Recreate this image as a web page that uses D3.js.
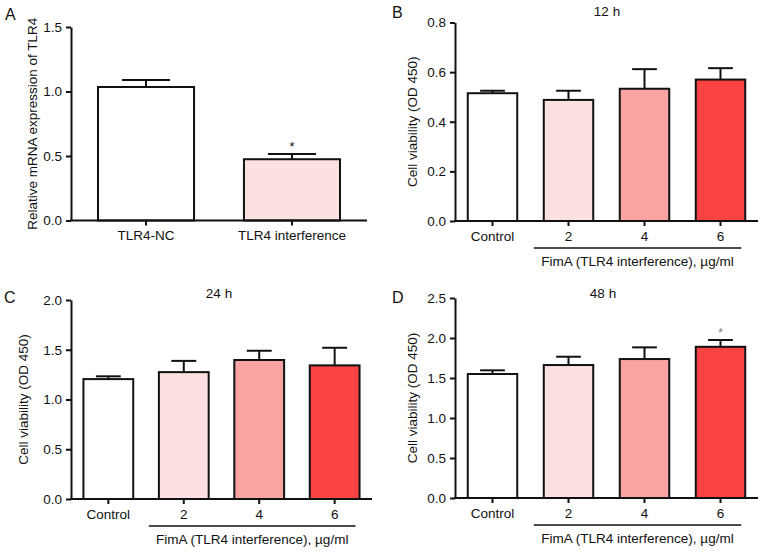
<!DOCTYPE html>
<html>
<head>
<meta charset="utf-8">
<script src="https://cdn.jsdelivr.net/npm/d3@7"></script>
<style>
  html, body { margin: 0; padding: 0; background: #fff; }
  svg { display: block; font-family: "Liberation Sans", Arial, Helvetica, sans-serif; }
</style>
</head>
<body>
<svg id="chart" width="765" height="554"></svg>
<script>
// ---- Data ----
const catsA = ["TLR4-NC", "TLR4 interference"];
const meanA = [1.035, 0.475];
const sdA = [0.055, 0.04];
const sigA = ["", "*"];

const catsDose = ["Control", "2", "4", "6"];
const mean12 = [0.515, 0.488, 0.533, 0.570];
const sd12 = [0.010, 0.037, 0.079, 0.046];
const sig12 = ["", "", "", ""];
const mean24 = [1.205, 1.275, 1.397, 1.343];
const sd24 = [0.028, 0.113, 0.093, 0.177];
const sig24 = ["", "", "", ""];
const mean48 = [1.550, 1.662, 1.737, 1.890];
const sd48 = [0.046, 0.104, 0.146, 0.085];
const sig48 = ["", "", "", "*"];

const ticksA = [0, 0.5, 1.0, 1.5];
const ticks12 = [0, 0.2, 0.4, 0.6, 0.8];
const ticks24 = [0, 0.5, 1.0, 1.5, 2.0];
const ticks48 = [0, 0.5, 1.0, 1.5, 2.0, 2.5];

const fillsA = ["#ffffff", "#fde0e1"];
const fillsDose = ["#ffffff", "#fde0e1", "#f9a3a3", "#f94343"];

const FS = 13.5;
const svg = d3.select("#chart");

function panel(cfg) {
  const g = svg.append("g");
  const x = d3.scaleBand().domain(cfg.cats).range(cfg.xr)
    .paddingInner(cfg.pi).paddingOuter(cfg.po);
  const y = d3.scaleLinear().domain([0, d3.max(cfg.ticks)]).range(cfg.yr);
  const data = cfg.cats.map((c, i) => ({c, m: cfg.mean[i], s: cfg.sd[i], f: cfg.fills[i], sig: cfg.sig[i]}));

  // error bars (upward only)
  const bw = x.bandwidth();
  data.forEach(d => {
    const cx = x(d.c) + bw / 2;
    g.append("line").attr("x1", cx).attr("x2", cx)
      .attr("y1", y(d.m)).attr("y2", y(d.m + d.s))
      .attr("stroke", "#111").attr("stroke-width", 2);
    g.append("line").attr("x1", cx - bw / 4).attr("x2", cx + bw / 4)
      .attr("y1", y(d.m + d.s)).attr("y2", y(d.m + d.s))
      .attr("stroke", "#111").attr("stroke-width", 2);
    if (d.sig) {
      g.append("text").attr("x", cx).attr("y", y(d.m + d.s) - 3)
        .attr("text-anchor", "middle").attr("font-size", 13)
        .attr("fill", cfg.sigColor).text(d.sig);
    }
  });
  // bars
  g.selectAll("rect.bar").data(data).join("rect")
    .attr("class", "bar")
    .attr("x", d => x(d.c)).attr("width", bw)
    .attr("y", d => y(d.m)).attr("height", d => y(0) - y(d.m))
    .attr("fill", d => d.f).attr("stroke", "#111").attr("stroke-width", 2);

  // axes
  const ya = g.append("g").attr("transform", `translate(${cfg.xr[0]},0)`)
    .call(d3.axisLeft(y).tickValues(cfg.ticks).tickFormat(d3.format(".1f"))
      .tickSize(5).tickSizeOuter(0).tickPadding(4));
  const xa = g.append("g").attr("transform", `translate(0,${cfg.yr[0]})`)
    .call(d3.axisBottom(x).tickSize(5).tickSizeOuter(0).tickPadding(5));
  [ya, xa].forEach(a => {
    a.selectAll("path, line").attr("stroke", "#111").attr("stroke-width", 2);
    a.selectAll("text").attr("font-size", FS).attr("fill", "#111")
      .attr("font-family", "'Liberation Sans', Arial, sans-serif");
  });
  // extend x axis across y axis line
  xa.select("path.domain").attr("d", `M${cfg.xr[0] - 1},0H${cfg.xr[1]}`);

  // y label
  g.append("text")
    .attr("transform", `translate(${cfg.ylx},${(cfg.yr[0] + cfg.yr[1]) / 2}) rotate(-90)`)
    .attr("text-anchor", "middle").attr("dominant-baseline", "central")
    .attr("font-size", FS).attr("fill", "#111").text(cfg.ylabel);

  // panel letter
  g.append("text").attr("x", cfg.letter[0]).attr("y", cfg.letter[1])
    .attr("font-size", 16).attr("fill", "#111").text(cfg.letter[2]);

  // title
  if (cfg.title) {
    g.append("text").attr("x", cfg.title[0]).attr("y", cfg.title[1])
      .attr("text-anchor", "middle").attr("dominant-baseline", "central")
      .attr("font-size", FS).attr("fill", "#111").text(cfg.title[2]);
  }

  // bracket under dose groups
  if (cfg.bracket) {
    const x0 = x(cfg.cats[1]) - 10;
    const x1 = x(cfg.cats[cfg.cats.length - 1]) + bw - 4;
    const by = cfg.yr[0] + 27;
    g.append("line").attr("x1", x0).attr("x2", x1).attr("y1", by).attr("y2", by)
      .attr("stroke", "#111").attr("stroke-width", 1.5);
    g.append("text").attr("x", (x0 + x1) / 2).attr("y", by + 13.5)
      .attr("text-anchor", "middle").attr("dominant-baseline", "central")
      .attr("font-size", FS).attr("fill", "#111").text(cfg.bracket);
  }
}

const doseLabel = "FimA (TLR4 interference), \u00b5g/ml";
const yLab = "Cell viability (OD 450)";

panel({cats: catsA, mean: meanA, sd: sdA, sig: sigA, fills: fillsA, ticks: ticksA,
  xr: [71, 367], yr: [220.5, 27], pi: 0.342, po: 0.185, ylx: 32,
  ylabel: "Relative mRNA expression of TLR4", letter: [5, 20, "A"], sigColor: "#111"});

panel({cats: catsDose, mean: mean12, sd: sd12, sig: sig12, fills: fillsDose, ticks: ticks12,
  xr: [455, 758], yr: [221, 22.5], pi: 0.349, po: 0.168, ylx: 412,
  ylabel: yLab, letter: [392, 18, "B"], title: [607, 11, "12 h"], bracket: doseLabel, sigColor: "#777"});

panel({cats: catsDose, mean: mean24, sd: sd24, sig: sig24, fills: fillsDose, ticks: ticks24,
  xr: [71, 372], yr: [499, 300], pi: 0.34, po: 0.165, ylx: 23.5,
  ylabel: yLab, letter: [4, 303, "C"], title: [219, 293, "24 h"], bracket: doseLabel, sigColor: "#777"});

panel({cats: catsDose, mean: mean48, sd: sd48, sig: sig48, fills: fillsDose, ticks: ticks48,
  xr: [455, 758], yr: [498, 298], pi: 0.349, po: 0.168, ylx: 412,
  ylabel: yLab, letter: [392, 303, "D"], title: [603, 293, "48 h"], bracket: doseLabel, sigColor: "#888"});
</script>
</body>
</html>
